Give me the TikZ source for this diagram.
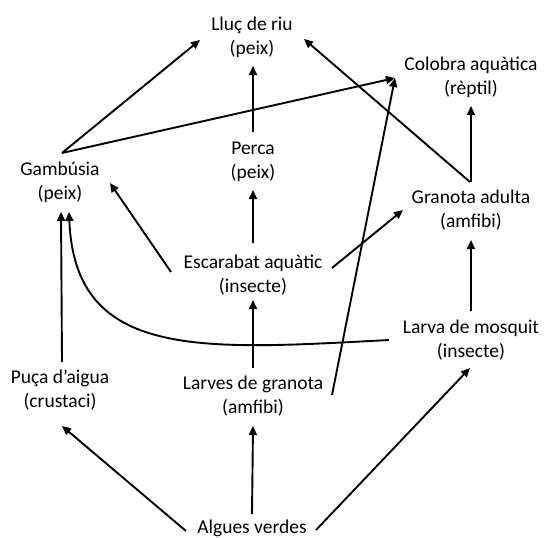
\documentclass[tikz,border=0pt]{standalone}
\usepackage{fontspec}
\setmainfont{Carlito}
\usetikzlibrary{arrows.meta}
\begin{document}
\begin{tikzpicture}[x=1pt,y=-1pt,
  lbl/.style={align=center,inner sep=0pt,font=\fontsize{19.5}{24}\selectfont},
  arr/.style={line width=1.9pt,-{Triangle[length=9pt,width=8pt]}}]
\useasboundingbox (0,0) rectangle (544,538);
\node[lbl] (lluc) at (252,37) {Lluç de riu\\(peix)};
\node[lbl] (colob) at (471,77) {Colobra aquàtica\\(rèptil)};
\node[lbl] (gamb) at (60,182) {Gambúsia\\(peix)};
\node[lbl] (perca) at (253,162) {Perca\\(peix)};
\node[lbl] (gran) at (471,210) {Granota adulta\\(amfibi)};
\node[lbl] (escar) at (253,275) {Escarabat aquàtic\\(insecte)};
\node[lbl] (larva) at (471,340) {Larva de mosquit\\(insecte)};
\node[lbl] (puca) at (60,390) {Puça d’aigua\\(crustaci)};
\node[lbl] (larves) at (253,396) {Larves de granota\\(amfibi)};
\node[lbl] (alg) at (252,528) {Algues verdes};
% arrows
\draw[arr] ([shift={(2,-29)}]gamb.center) -- ([shift={(-52,3)}]lluc.center);
\draw[arr] ([shift={(2,-29)}]gamb.center) -- ([shift={(-76,1)}]colob.center);
\draw[arr] ([shift={(0,-30)}]perca.center) -- ([shift={(1,29)}]lluc.center);
\draw[arr] ([shift={(-1,-28)}]gran.center) -- ([shift={(52,2)}]lluc.center);
\draw[arr] ([shift={(0,-28)}]gran.center) -- ([shift={(0,29)}]colob.center);
\draw[arr] ([shift={(-82,-3)}]escar.center) -- ([shift={(50,1)}]gamb.center);
\draw[arr] ([shift={(0,-32)}]escar.center) -- ([shift={(0,28)}]perca.center);
\draw[arr] ([shift={(79,-7)}]escar.center) -- ([shift={(-68,0)}]gran.center);
\draw[arr] ([shift={(79,-1)}]larves.center) -- ([shift={(-76,1)}]colob.center);
\draw[arr] ([shift={(0,-28)}]larves.center) -- ([shift={(0,25)}]escar.center);
\draw[arr] ([shift={(-82,0)}]larva.center) .. controls (200,350) and (75,360) .. ([shift={(9,30)}]gamb.center);
\draw[arr] ([shift={(0,-29)}]larva.center) -- ([shift={(0,30)}]gran.center);
\draw[arr] ([shift={(2,-28)}]puca.center) -- ([shift={(1,30)}]gamb.center);
\draw[arr] ([shift={(-66,3)}]alg.center) -- ([shift={(2,36)}]puca.center);
\draw[arr] ([shift={(0,-14)}]alg.center) -- ([shift={(0,30)}]larves.center);
\draw[arr] ([shift={(64,2)}]alg.center) -- ([shift={(-1,28)}]larva.center);
\end{tikzpicture}
\end{document}
